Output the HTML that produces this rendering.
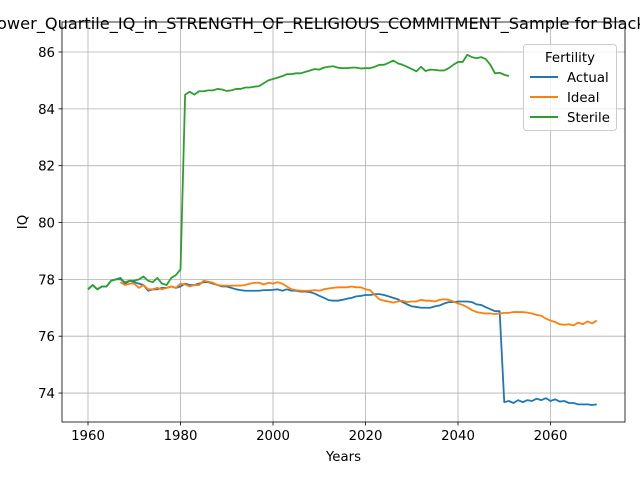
<!DOCTYPE html>
<html><head><meta charset="utf-8"><style>
body{margin:0;background:#fff}
svg{display:block;font-family:"DejaVu Sans","Liberation Sans",sans-serif}
</style></head><body>
<svg id="chart" width="640" height="480" viewBox="0 0 640 480">
<text x="343" y="29" text-anchor="middle" font-size="16.2" fill="#000">Lower_Quartile_IQ_in_STRENGTH_OF_RELIGIOUS_COMMITMENT_Sample for Black Males</text>
<g id="grid"></g><g id="series"></g><g id="axes"></g>
<g>
<rect x="523.5" y="44.5" width="93" height="86" rx="3" fill="#fff" fill-opacity="0.8" stroke="#ccc"/>
<text x="570" y="62" text-anchor="middle" font-size="13.3">Fertility</text>
<g><line x1="530" x2="558" y1="77" y2="77" stroke="#1f77b4" stroke-width="2"/><text x="567" y="82" font-size="13.3">Actual</text></g>
<g><line x1="530" x2="558" y1="97" y2="97" stroke="#ff7f0e" stroke-width="2"/><text x="567" y="102" font-size="13.3">Ideal</text></g>
<g><line x1="530" x2="558" y1="117" y2="117" stroke="#2ca02c" stroke-width="2"/><text x="567" y="122" font-size="13.3">Sterile</text></g>
</g>
</svg>
<script>
const xTicks=[1960,1980,2000,2020,2040,2060];
const yTicks=[74,76,78,80,82,84,86];
const actualStart=1960;
const actual=[77.65,77.8,77.65,77.75,77.75,77.95,78.0,78.05,77.85,77.95,77.9,77.85,77.8,77.6,77.65,77.65,77.7,77.7,77.75,77.7,77.75,77.85,77.8,77.8,77.85,77.9,77.9,77.85,77.8,77.75,77.75,77.7,77.65,77.62,77.6,77.6,77.6,77.6,77.62,77.62,77.63,77.65,77.6,77.65,77.6,77.6,77.57,77.57,77.55,77.5,77.42,77.35,77.27,77.25,77.25,77.28,77.32,77.35,77.4,77.42,77.45,77.45,77.48,77.48,77.45,77.4,77.35,77.3,77.2,77.12,77.05,77.03,77.0,77.0,77.0,77.05,77.08,77.15,77.2,77.2,77.22,77.22,77.22,77.2,77.12,77.1,77.02,76.95,76.88,76.88,73.68,73.72,73.65,73.75,73.68,73.75,73.72,73.8,73.75,73.82,73.72,73.78,73.7,73.72,73.65,73.65,73.6,73.6,73.6,73.58,73.6];
const idealStart=1967;
const ideal=[77.9,77.8,77.85,77.85,77.7,77.8,77.65,77.65,77.7,77.65,77.7,77.75,77.7,77.85,77.82,77.75,77.8,77.8,77.95,77.92,77.88,77.8,77.78,77.78,77.78,77.78,77.78,77.8,77.85,77.88,77.88,77.82,77.88,77.85,77.9,77.85,77.75,77.65,77.62,77.6,77.6,77.6,77.62,77.6,77.65,77.68,77.7,77.72,77.72,77.72,77.75,77.72,77.72,77.65,77.62,77.45,77.3,77.25,77.22,77.18,77.22,77.25,77.2,77.22,77.22,77.28,77.25,77.25,77.22,77.28,77.3,77.28,77.22,77.15,77.1,77.02,76.92,76.85,76.82,76.8,76.8,76.78,76.8,76.82,76.82,76.85,76.85,76.85,76.83,76.8,76.75,76.72,76.62,76.55,76.5,76.42,76.4,76.42,76.38,76.48,76.42,76.52,76.45,76.55];
const sterileStart=1960;
const sterile=[77.65,77.8,77.65,77.75,77.75,77.95,78.0,78.0,77.9,77.95,77.95,78.0,78.1,77.95,77.9,78.05,77.85,77.8,78.05,78.15,78.35,84.5,84.6,84.5,84.62,84.62,84.65,84.65,84.7,84.68,84.63,84.65,84.7,84.7,84.75,84.75,84.78,84.8,84.9,85.0,85.05,85.1,85.15,85.22,85.22,85.25,85.25,85.3,85.35,85.4,85.38,85.45,85.48,85.5,85.45,85.43,85.43,85.45,85.45,85.42,85.43,85.43,85.48,85.55,85.55,85.62,85.7,85.6,85.55,85.48,85.4,85.32,85.48,85.33,85.38,85.37,85.35,85.35,85.43,85.55,85.65,85.65,85.9,85.82,85.78,85.82,85.75,85.55,85.25,85.27,85.2,85.15];

const L=62,R=625,T=22,B=422;
const xs=v=>88+(v-1960)*4.625;
const ys=v=>52+(86-v)*28.42;
const NS='http://www.w3.org/2000/svg';
function mk(tag,attrs,parent){const e=document.createElementNS(NS,tag);for(const k in attrs)e.setAttribute(k,attrs[k]);parent.appendChild(e);return e;}
const grid=document.getElementById('grid'),axes=document.getElementById('axes'),series=document.getElementById('series');
xTicks.forEach(t=>{const x=xs(t);
 const g=mk('line',{x1:x,x2:x,y1:T,y2:B,stroke:'#b0b0b0','stroke-width':0.8},grid);
 
 
 mk('line',{x1:x,x2:x,y1:B,y2:B+3.5,stroke:'#000','stroke-width':0.8},axes);
 const tx=mk('text',{x:x,y:B+18,'text-anchor':'middle','font-size':13.3},axes);tx.textContent=t;
 
 
});
yTicks.forEach(t=>{const y=ys(t);
 const g=mk('line',{x1:L,x2:R,y1:y,y2:y,stroke:'#b0b0b0','stroke-width':0.8},grid);
 
 
 mk('line',{x1:L-3.5,x2:L,y1:y,y2:y,stroke:'#000','stroke-width':0.8},axes);
 const tx=mk('text',{x:L-7,y:y+5,'text-anchor':'end','font-size':13.3},axes);tx.textContent=t;
 
 
});
const frame=mk('rect',{x:L,y:T,width:R-L,height:B-T,fill:'none',stroke:'#000','stroke-width':0.8},axes);


const xl=mk('text',{x:(L+R)/2,y:461,'text-anchor':'middle','font-size':13.3},axes);xl.textContent='Years';


const yl=mk('text',{x:27,y:(T+B)/2,'text-anchor':'middle','font-size':13.3,transform:`rotate(-90 27 ${(T+B)/2})`},axes);yl.textContent='IQ';


function line(vals,start,color,name){
 const d=vals.map((v,i)=>(i?'L':'M')+xs(start+i).toFixed(2)+','+ys(v).toFixed(2)).join('');
 const p=mk('path',{d:d,fill:'none',stroke:color,'stroke-width':1.8,'stroke-linejoin':'round'},series);
 
 
}
line(actual,actualStart,'#1f77b4','actual-line');
line(ideal,idealStart,'#ff7f0e','ideal-line');
line(sterile,sterileStart,'#2ca02c','sterile-line');
</script>
</body></html>
